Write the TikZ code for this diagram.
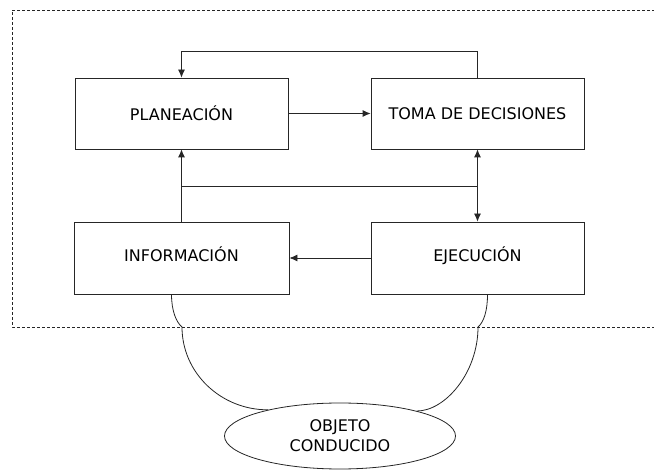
\documentclass[tikz,border=0pt]{standalone}
\usepackage{fontspec}
\setmainfont{DejaVu Sans}
\usetikzlibrary{arrows.meta,shapes.geometric}

\begin{document}
\begin{tikzpicture}[x=1pt,y=-1pt,
  line width=0.8pt, draw=black!85,
  caja/.style={draw, rectangle, minimum width=213pt, minimum height=71pt, inner sep=0pt,
    font=\fontsize{16}{20}\selectfont},
  flecha/.style={-{Latex[length=8pt,width=7pt]}},
  doble/.style={{Latex[length=8pt,width=7pt]}-{Latex[length=8pt,width=7pt]}}]
\useasboundingbox (0,0) rectangle (654,470);

% Limit of the system (dashed, open on the right)
\draw[dash pattern=on 3pt off 2pt] (660,10) -- (12,10) -- (12,327) -- (660,327);

% The four boxes
\node[caja] (plan) at (181.5,113.5) {PLANEACIÓN};
\node[caja] (toma) at (477.5,113.5) {TOMA DE DECISIONES};
\node[caja, minimum width=215pt, minimum height=72pt, text depth=8pt] (info) at (181.5,258) {INFORMACIÓN};
\node[caja, minimum height=72pt, text depth=8pt] (ejec) at (477.5,258) {EJECUCIÓN};

% The object outside the system
\node[draw, ellipse, minimum width=231pt, minimum height=66pt, inner sep=0pt, align=center,
  font=\fontsize{16}{20}\selectfont] (obj) at (340,436) {OBJETO\\CONDUCIDO};

% Arrows between the boxes
\draw[flecha] (toma.north) -- ++(0,-26) -| (plan.north);
\draw[flecha] (plan.east) -- (toma.west);
\draw[flecha] (info.north) -- (plan.south);
\draw[doble] (toma.south) -- (ejec.north);
\coordinate (jl) at (181.5,186);
\coordinate (jr) at (477.5,186);
\draw (jl) -- (jr);
\draw[flecha] (ejec.west) -- (info.east);

% Links to the object
\coordinate (lk) at (182,327);
\coordinate (rk) at (478,327);
\draw ([xshift=-10pt]info.south) .. controls ++(0,16) and (176,322) .. (lk)
  .. controls (182,373) and (221,410) .. (obj.160);
\draw ([xshift=10pt]ejec.south) .. controls ++(0,16) and (484,322) .. (rk)
  .. controls (478,373) and (445,411) .. (obj.18);
\end{tikzpicture}
\end{document}
